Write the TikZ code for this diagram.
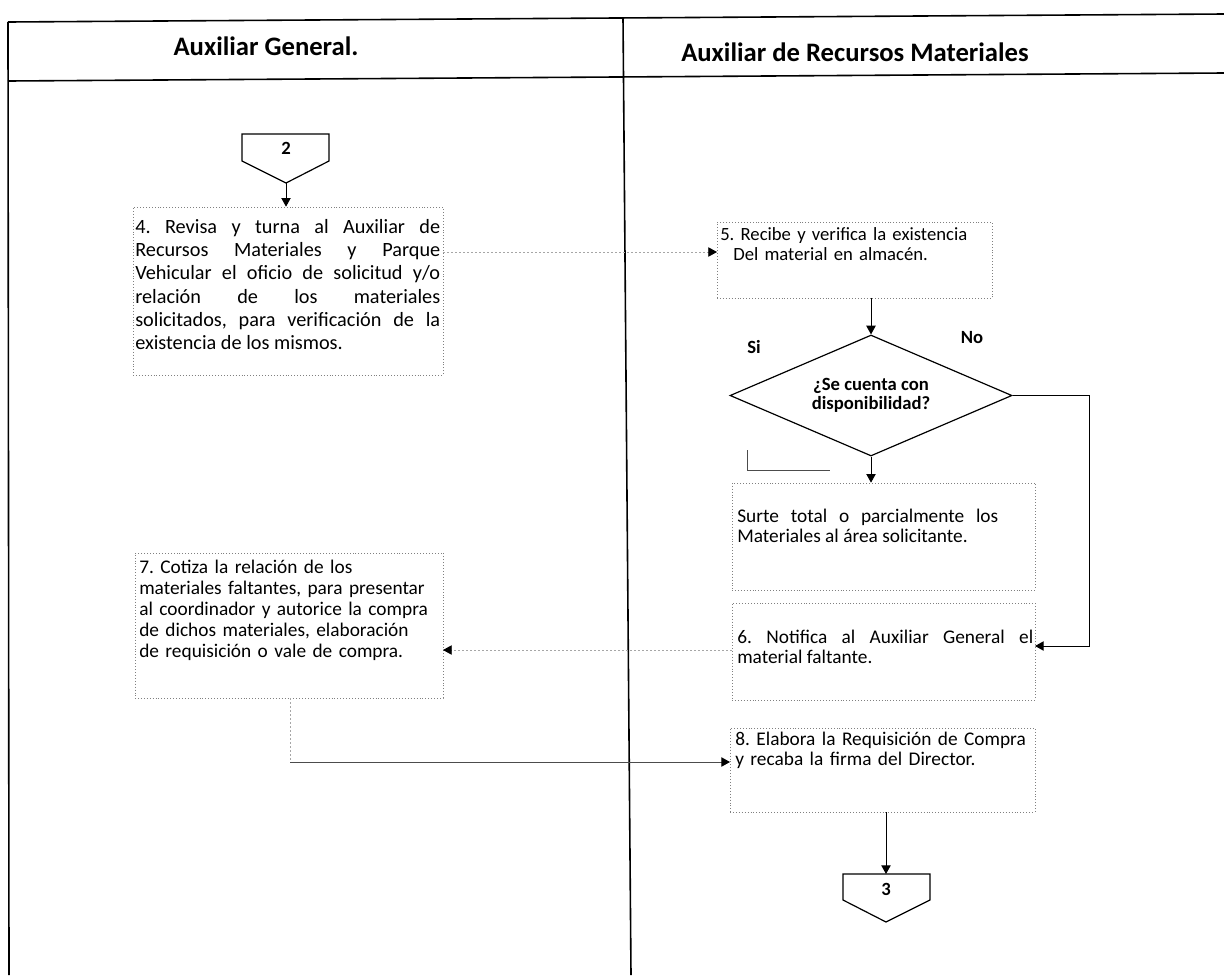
\documentclass[tikz,border=0pt]{standalone}
\usepackage{fontspec}
\setmainfont{Carlito}
\frenchspacing
\usetikzlibrary{arrows.meta,shapes.geometric,fit,calc}
\begin{document}
\begin{tikzpicture}[x=0.75pt,y=-0.75pt,
  lane/.style={line width=1.2pt},
  stepbox/.style={draw=black!50,line width=0.5pt,dash pattern=on 0.6pt off 1.6pt,inner sep=0pt,rectangle},
  txt/.style={inner sep=0pt,anchor=base west,font=\fontsize{14.5}{15.6}\selectfont},
  tip/.style={-{Triangle[length=6.5pt,width=7pt,color=black]}},
  flow/.style={line width=0.75pt,tip},
  faint/.style={draw=black!35,line width=0.6pt,dash pattern=on 1pt off 2pt},
  hdr/.style={font=\fontsize{20}{24}\selectfont\bfseries,inner sep=0pt},
  lbl/.style={font=\fontsize{14}{16}\selectfont\bfseries,inner sep=0pt},
  offpage/.style={line width=0.9pt},
]
\useasboundingbox (0,0) rectangle (1224,975);

% swimlane frame
\draw[lane] (8,22) -- (1224,14);
\draw[lane] (8,81) -- (1224,73);
\draw[lane] (8,22) -- (9,975);
\draw[lane] (623,18) -- (631,975);
\node[hdr] (h1) at (266,46) {Auxiliar General.};
\node[hdr] (h2) at (855,52) {Auxiliar de Recursos Materiales};

% off-page connector 2
\draw[offpage] (242,134) -- (329,134) -- (329,161) -- (286,183) -- (242,161) -- cycle;
\node[lbl] (c2) at (286,148) {2};
\coordinate (c2tip) at (286,183);

% step 4
\node[stepbox,fit={(133,207)(443,375)}] (p4) {};
\node[txt,font=\fontsize{15.2}{17.5}\selectfont,text width=228.75pt,align=justify] (t4) at (135,233)
  {4. Revisa y turna al Auxiliar de\linebreak Recursos Materiales y Parque\linebreak Vehicular el oficio de solicitud y/o\linebreak relación de los materiales\linebreak solicitados, para verificación de la\linebreak existencia de los mismos.};

% step 5
\node[stepbox,fit={(717,222)(992,298)}] (p5) {};
\node[txt,text width=200pt,align=left,font=\fontsize{14}{15.3}\selectfont] (t5) at (720,240)
  {5. Recibe y verifica la existencia\\\hspace*{9.75pt}Del material en almacén.};

% decision
\node[draw,diamond,aspect=2.33,line width=0.9pt,minimum width=211.5pt,minimum height=90.75pt,inner sep=0pt,
  align=center,font=\fontsize{14}{14.25}\selectfont\bfseries] (d) at (871,395.5)
  {¿Se cuenta con\\disponibilidad?};
\node[lbl] (si) at (754,347) {Si};
\node[lbl] (no) at (972,338) {No};

% supply
\node[stepbox,fit={(732,483)(1035,590)}] (surte) {};
\node[txt,text width=195.75pt,align=justify] (ts) at (737,522)
  {Surte total o parcialmente los\linebreak Materiales al área solicitante.};

% step 6
\node[stepbox,fit={(732,603)(1035,700)}] (p6) {};
\node[txt,text width=222pt,align=justify] (t6) at (737,643)
  {6. Notifica al Auxiliar General el\linebreak material faltante.};

% step 7
\node[stepbox,fit={(135,553)(443,698)}] (p7) {};
\node[txt,text width=225pt,align=left,font=\fontsize{14.5}{15.75}\selectfont] (t7) at (139,573)
  {7. Cotiza la relación de los\\materiales faltantes, para presentar\\al coordinador y autorice la compra\\de dichos materiales, elaboración\\de requisición o vale de compra.};

% step 8
\node[stepbox,fit={(730,728)(1035,812)}] (p8) {};
\node[txt,text width=220pt,align=left] (t8) at (735,745)
  {8. Elabora la Requisición de Compra\\y recaba la firma del Director.};

% off-page connector 3
\draw[offpage] (843,874) -- (930,874) -- (930,900) -- (886,922) -- (843,900) -- cycle;
\node[lbl] (c3) at (886,889) {3};
\coordinate (c3top) at (886,874);

% connectors
\coordinate (p5in) at (717,252);
\coordinate (p6in) at (1035,646);
\coordinate (p7in) at (443,650);
\coordinate (nob) at (1089,0);
\coordinate (k) at (290,762);
\coordinate (p8in) at (730,762);
\coordinate (siA) at (747,450);
\coordinate (siB) at (830,470);

\draw[flow] (c2tip) -- (c2tip |- p4.north);
\draw[faint,tip] (p4.east |- p5in) -- (p5in);
\draw[flow] (p5.south -| d.north) -- (d.north);
\draw[line width=0.6pt,black!70] (siA) |- (siB);
\draw[flow] (d.south) -- (d.south |- surte.north);
\draw[flow] (d.east) -- (d.east -| nob) |- (p6in);
\draw[faint,tip] (p6.west |- p7in) -- (p7in);
\draw[faint] (p7.south -| k) -- (k);
\draw[flow,draw=black!70] (k) -- (p8in);
\draw[flow] (c3top |- p8.south) -- (c3top);
\end{tikzpicture}
\end{document}
